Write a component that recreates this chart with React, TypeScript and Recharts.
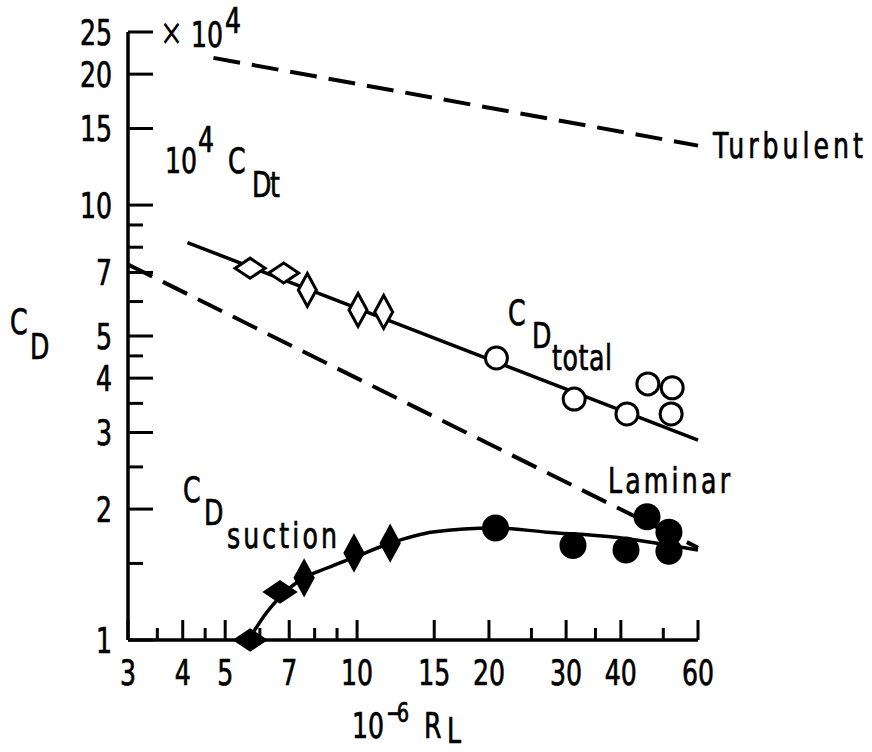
import { ComposedChart, Scatter, XAxis, YAxis } from "recharts";

// axis ticks (log scales)
const xTicks = [3, 3.5, 4, 4.5, 5, 6, 7, 8, 9, 10, 15, 20, 25, 30, 35, 40, 50, 60];
const xLabels = [3, 4, 5, 7, 10, 15, 20, 30, 40, 60];
const yTicks = [1, 1.5, 2, 2.5, 3, 3.5, 4, 4.5, 5, 6, 7, 8, 9, 10, 15, 20, 25];
const yLabels = [1, 2, 3, 4, 5, 7, 10, 15, 20, 25];

// reference lines (10^-6 R_L vs 10^4 C_D)
const turbulentR = [4.7, 60];
const turbulentCD = [21.8, 13.7];
const laminarR = [3, 60];
const laminarCD = [7.3, 1.63];
const totalFitR = [4.1, 60];
const totalFitCD = [8.2, 2.88];
const suctionFitR = [5.65, 6.23, 6.67, 7.41, 8.54, 9.89, 11.95, 14.9, 20.6, 27.1, 38.4, 54.6, 60];
const suctionFitCD = [1.0, 1.16, 1.256, 1.374, 1.464, 1.552, 1.671, 1.771, 1.81, 1.77, 1.725, 1.636, 1.61];

// measured points
const openDiamondR = [5.7, 6.8, 7.7, 10.05, 11.5];
const openDiamondCD = [7.16, 6.98, 6.38, 5.74, 5.68];
const openCircleR = [20.8, 31.3, 41.3, 46.1, 52.4, 52.1];
const openCircleCD = [4.45, 3.58, 3.31, 3.88, 3.8, 3.31];
const filledDiamondR = [5.7, 6.67, 7.57, 9.84, 11.9];
const filledDiamondCD = [1.0, 1.29, 1.39, 1.585, 1.67];
const filledCircleR = [20.7, 31.1, 41.1, 45.9, 51.5, 51.5];
const filledCircleCD = [1.81, 1.65, 1.61, 1.92, 1.77, 1.6];

const FONT = "'Liberation Sans Narrow', 'DejaVu Sans Condensed', 'DejaVu Sans', sans-serif";
const FS = 35;
const SX = 0.8; // squeeze glyphs to the narrow typeface of the original

const pts = (rs: number[], cds: number[]) => rs.map((r, i) => ({ r, cd: cds[i] }));

// text squeezed horizontally; w = width wanted on the page (letters spaced out to fit)
function T({ x, y, children, size = FS, w, anchor = "start", sw = 0.7 }: any) {
  return (
    <text
      transform={`translate(${x} ${y}) scale(${SX} 1)`}
      x={0}
      y={0}
      textAnchor={anchor}
      fontSize={size}
      fontFamily={FONT}
      fill="#000"
      stroke="#000"
      strokeWidth={sw}
      {...(w ? { textLength: w / SX, lengthAdjust: "spacing" } : {})}
    >
      {children}
    </text>
  );
}

function XTick(props: any) {
  const { x, y, payload } = props;
  const v = payload.value;
  const major = xLabels.includes(v);
  return (
    <g>
      <line x1={x} x2={x} y1={y} y2={y - (major ? 20 : 12)} stroke="#000" strokeWidth={3} />
      {major && (
        <T x={x} y={y + 45} anchor="middle">
          {v}
        </T>
      )}
    </g>
  );
}

function YTick(props: any) {
  const { x, y, payload } = props;
  const v = payload.value;
  const major = yLabels.includes(v);
  return (
    <g>
      <line x1={x} x2={x + (major ? 25 : 15)} y1={y} y2={y} stroke="#000" strokeWidth={3} />
      {major && (
        <T x={x - 16} y={y + 12.5} anchor="end">
          {v}
        </T>
      )}
    </g>
  );
}

const diamond = (filled: boolean) => (props: any) => {
  const { cx, cy, payload } = props;
  const wide = payload.r < 7; // the two lowest-R runs are drawn flattened
  const hw = wide ? 15 : 9;
  const hh = wide ? 10 : 16.5;
  return (
    <polygon
      points={`${cx - hw},${cy} ${cx},${cy - hh} ${cx + hw},${cy} ${cx},${cy + hh}`}
      fill={filled ? "#000" : "#fff"}
      stroke="#000"
      strokeWidth={3}
    />
  );
};

const circle = (filled: boolean) => (props: any) => {
  const { cx, cy } = props;
  return filled ? (
    <circle cx={cx} cy={cy} r={13.5} fill="#000" />
  ) : (
    <circle cx={cx} cy={cy} r={11} fill="#fff" stroke="#000" strokeWidth={3} />
  );
};

const noShape = () => <g />;
const dashed = { stroke: "#000", strokeWidth: 4, strokeDasharray: "27 12", fill: "none" };
const solid = { stroke: "#000", strokeWidth: 3.5, fill: "none" };

export default function App() {
  return (
    <div style={{ position: "absolute", left: 0, top: 0, width: 872, height: 752, background: "#fff" }}>
      <ComposedChart width={872} height={752} margin={{ top: 32, right: 174, bottom: 0, left: 0 }}>
        <XAxis
          type="number"
          dataKey="r"
          scale="log"
          domain={[3, 60]}
          ticks={xTicks}
          interval={0}
          height={112}
          tickSize={0}
          tickMargin={0}
          tickLine={false}
          axisLine={{ stroke: "#000", strokeWidth: 3.5 }}
          tick={<XTick />}
        />
        <YAxis
          type="number"
          dataKey="cd"
          scale="log"
          domain={[1, 25]}
          ticks={yTicks}
          interval={0}
          width={128}
          tickSize={0}
          tickMargin={0}
          tickLine={false}
          axisLine={{ stroke: "#000", strokeWidth: 3.5 }}
          tick={<YTick />}
        />
        <Scatter data={pts(turbulentR, turbulentCD)} line={dashed} shape={noShape} fill="none" isAnimationActive={false} />
        <Scatter data={pts(laminarR, laminarCD)} line={dashed} shape={noShape} fill="none" isAnimationActive={false} />
        <Scatter data={pts(totalFitR, totalFitCD)} line={solid} shape={noShape} fill="none" isAnimationActive={false} />
        <Scatter
          data={pts(suctionFitR, suctionFitCD)}
          line={solid}
          lineJointType="monotoneX"
          shape={noShape}
          fill="none"
          isAnimationActive={false}
        />
        <Scatter data={pts(openDiamondR, openDiamondCD)} shape={diamond(false)} isAnimationActive={false} />
        <Scatter data={pts(openCircleR, openCircleCD)} shape={circle(false)} isAnimationActive={false} />
        <Scatter data={pts(filledDiamondR, filledDiamondCD)} shape={diamond(true)} isAnimationActive={false} />
        <Scatter data={pts(filledCircleR, filledCircleCD)} shape={circle(true)} isAnimationActive={false} />
      </ComposedChart>
      <svg width={872} height={752} style={{ position: "absolute", left: 0, top: 0, pointerEvents: "none" }}>
        <T x={160} y={45} size={38} sw={0}>×</T>
        <T x={191} y={47}>10</T>
        <T x={225} y={33}>4</T>

        <T x={165} y={173}>10</T>
        <T x={198} y={152}>4</T>
        <T x={228} y={173}>C</T>
        <T x={252} y={197} w={28}>Dt</T>

        <T x={10} y={334}>C</T>
        <T x={30} y={359}>D</T>

        <T x={508} y={325}>C</T>
        <T x={532} y={348}>D</T>
        <T x={552} y={370} w={60}>total</T>

        <T x={608} y={493} w={122}>Laminar</T>

        <T x={183} y={502}>C</T>
        <T x={204} y={525}>D</T>
        <T x={227} y={548} w={110}>suction</T>

        <T x={713} y={158} w={150}>Turbulent</T>

        <T x={352} y={738}>10</T>
        <T x={386} y={722} size={27} w={23}>−6</T>
        <T x={424} y={738}>R</T>
        <T x={447} y={743}>L</T>
      </svg>
    </div>
  );
}
